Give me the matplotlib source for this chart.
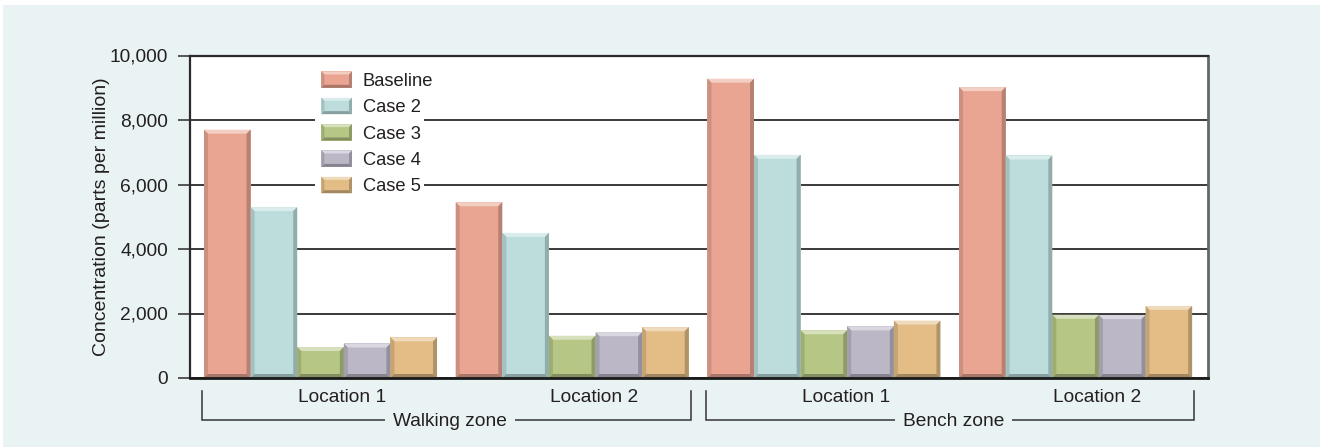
import matplotlib
matplotlib.use("Agg")
import matplotlib.pyplot as plt
from matplotlib.patches import Polygon, Patch, Rectangle
from matplotlib.legend_handler import HandlerBase
import matplotlib.colors as mcolors

# ---- data ----
series = ["Baseline", "Case 2", "Case 3", "Case 4", "Case 5"]
locations = ["Location 1", "Location 2", "Location 1", "Location 2"]
zones = ["Walking zone", "Bench zone"]
walking_loc1 = [7700, 5300, 960, 1070, 1260]
walking_loc2 = [5450, 4500, 1310, 1420, 1575]
bench_loc1 = [9280, 6920, 1480, 1600, 1780]
bench_loc2 = [9020, 6900, 1960, 1950, 2235]
yticks = [0, 2000, 4000, 6000, 8000, 10000]

groups = [walking_loc1, walking_loc2, bench_loc1, bench_loc2]
face_colors = ["#E9A592", "#BCDDDC", "#B6C785", "#BCB7C7", "#E3BC86"]

FONT = ["Liberation Sans", "DejaVu Sans"]
TXT = "#231F20"
PANEL = "#EAF3F4"

W, H, DPI = 13.25, 4.47, 100
fig = plt.figure(figsize=(W, H), dpi=DPI, facecolor="white")
fig.patches.append(Rectangle((3 / 1325, 0), (1320 - 3) / 1325, (447 - 5) / 447,
                             transform=fig.transFigure, facecolor=PANEL,
                             edgecolor="none", zorder=-10))

ax_l, ax_r, ax_t, ax_b = 190, 1208, 55.5, 378
ax = fig.add_axes([ax_l / 1325, (447 - ax_b) / 447, (ax_r - ax_l) / 1325, (ax_b - ax_t) / 447])
ax.set_facecolor("white")

XMAX = 21.84
ax.set_xlim(0, XMAX)
ax.set_ylim(0, 10000)

px_x = XMAX / (ax_r - ax_l)        # data units per pixel (x)
px_y = 10000 / (ax_b - ax_t)       # data units per pixel (y)


def shade(c, f):
    r, g, b = mcolors.to_rgb(c)
    if f >= 0:
        return (r + (1 - r) * f, g + (1 - g) * f, b + (1 - b) * f)
    f = -f
    return (r * (1 - f), g * (1 - f), b * (1 - f))


def bevel_bar(x0, w, h, color, bx, by, z=3):
    ax.bar(x0, h, w, align="edge", color=color, linewidth=0, zorder=z)
    top = [(x0, h), (x0 + w, h), (x0 + w - bx, h - by), (x0 + bx, h - by)]
    left = [(x0, 0), (x0, h), (x0 + bx, h - by), (x0 + bx, by)]
    right = [(x0 + w, 0), (x0 + w, h), (x0 + w - bx, h - by), (x0 + w - bx, by)]
    bottom = [(x0, 0), (x0 + w, 0), (x0 + w - bx, by), (x0 + bx, by)]
    for pts, c in [(top, shade(color, 0.45)), (left, shade(color, -0.13)),
                   (right, shade(color, -0.22)), (bottom, shade(color, -0.28))]:
        ax.add_patch(Polygon(pts, closed=True, facecolor=c, edgecolor="none", zorder=z + 0.1))


bar_w = 1.0
group_step = 5.4
first_left = 0.3
bx, by = 4 * px_x, 4 * px_y
for gi, vals in enumerate(groups):
    gl = first_left + gi * group_step
    for si, v in enumerate(vals):
        bevel_bar(gl + si * bar_w, bar_w, v, face_colors[si], bx, by)

# grid and spines
ax.set_yticks(yticks)
ax.set_yticklabels([f"{v:,}" for v in yticks], fontsize=13.8, family=FONT, color=TXT)
ax.yaxis.grid(True, color="#3a3a3a", linewidth=1.4, zorder=1)
ax.set_axisbelow(True)
ax.tick_params(axis="y", direction="out", length=8.6, width=1.2, color="#3a3a3a", pad=7)
ax.set_xticks([])
for s in ["left", "top"]:
    ax.spines[s].set_color("#2a2a2a")
    ax.spines[s].set_linewidth(1.6)
ax.spines["right"].set_color("#666666")
ax.spines["right"].set_linewidth(2)
ax.spines["bottom"].set_color("#1a1a1a")
ax.spines["bottom"].set_linewidth(2)
ax.spines["bottom"].set_zorder(5)

ax.set_ylabel("Concentration (parts per million)", fontsize=14, family=FONT, color=TXT)
ax.yaxis.set_label_coords((110 - ax_l) / (ax_r - ax_l), 0.5)

# location labels & zone brackets
tr = ax.get_xaxis_transform()
axh = ax_b - ax_t
for gi, lab in enumerate(locations):
    gc = first_left + gi * group_step + 2.5 * bar_w
    ax.text(gc + 0.47, -(402.5 - ax_b) / axh, lab, transform=tr, ha="center", va="baseline",
            fontsize=13.8, family=FONT, color=TXT, clip_on=False)

y_top = -(391 - ax_b) / axh
y_line = -(420 - ax_b) / axh
for zi, zname in enumerate(zones):
    xl = first_left + (2 * zi) * group_step - 0.04
    xr = first_left + (2 * zi + 1) * group_step + 5 * bar_w + 0.04
    ax.plot([xl, xl, xr, xr], [y_top, y_line, y_line, y_top], transform=tr,
            color="#333333", linewidth=1.1, clip_on=False, solid_joinstyle="miter")
    ax.text((xl + xr) / 2 + 0.08, -(426.5 - ax_b) / axh, zname, transform=tr, ha="center",
            va="baseline", fontsize=13.8, family=FONT, color=TXT, clip_on=False,
            bbox=dict(facecolor=PANEL, edgecolor="none", pad=6), zorder=6)


# legend with bevelled handles
class BevelHandler(HandlerBase):
    def legend_artist(self, legend, orig_handle, fontsize, handlebox):
        x0, y0 = -handlebox.xdescent, -handlebox.ydescent
        w, h = handlebox.width, handlebox.height
        c = orig_handle.get_facecolor()
        b = 3 * 72 / DPI
        parts = [
            ([(x0, y0), (x0 + w, y0), (x0 + w, y0 + h), (x0, y0 + h)], c),
            ([(x0, y0 + h), (x0 + w, y0 + h), (x0 + w - b, y0 + h - b), (x0 + b, y0 + h - b)], shade(c, 0.45)),
            ([(x0, y0), (x0, y0 + h), (x0 + b, y0 + h - b), (x0 + b, y0 + b)], shade(c, -0.13)),
            ([(x0 + w, y0), (x0 + w, y0 + h), (x0 + w - b, y0 + h - b), (x0 + w - b, y0 + b)], shade(c, -0.22)),
            ([(x0, y0), (x0 + w, y0), (x0 + w - b, y0 + b), (x0 + b, y0 + b)], shade(c, -0.28)),
        ]
        arts = []
        for pts, col in parts:
            p = Polygon(pts, closed=True, facecolor=col, edgecolor="none",
                        transform=handlebox.get_transform())
            handlebox.add_artist(p)
            arts.append(p)
        return arts[0]


# white backing behind the legend (covers the grid lines)
ax.add_patch(Rectangle((315 / 1325, (447 - 198) / 447), (424 - 315) / 1325, (198 - 64) / 447,
                       transform=fig.transFigure, facecolor="white", edgecolor="none",
                       zorder=2))

handles = [Patch(facecolor=c) for c in face_colors]
fs_leg = 13.2
fs_px = fs_leg * DPI / 72
leg = ax.legend(handles, series, handler_map={Patch: BevelHandler()},
                loc="upper left", bbox_to_anchor=(315 / 1325, (447 - 65) / 447),
                bbox_transform=fig.transFigure, frameon=False,
                prop={"family": FONT, "size": fs_leg},
                handlelength=30.6 / fs_px, handleheight=18.3 / fs_px,
                handletextpad=10.5 / fs_px, labelspacing=0.43, borderpad=0.35,
                borderaxespad=0)
for t in leg.get_texts():
    t.set_color(TXT)
leg.set_zorder(4)

fig.savefig("out.png", dpi=DPI, facecolor="white")
